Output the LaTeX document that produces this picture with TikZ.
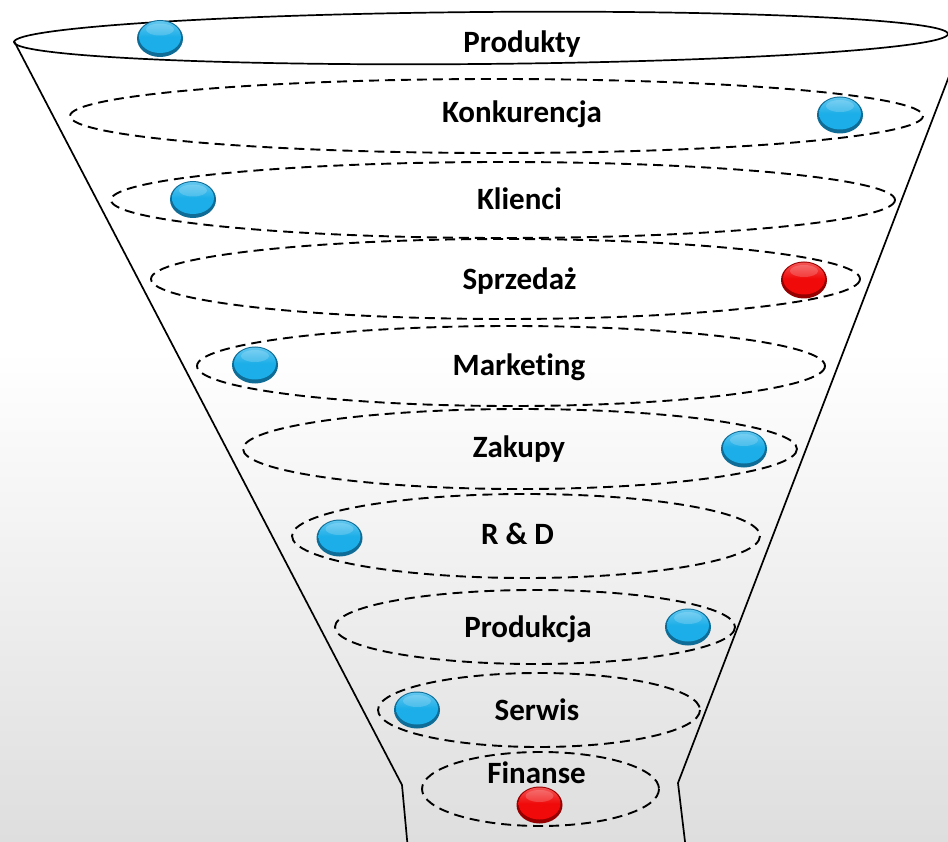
\documentclass[tikz,border=0pt]{standalone}
\usepackage{fontspec}
\setmainfont[Ligatures=NoCommon]{Carlito}
\definecolor{bgbottom}{RGB}{222,222,222}
\definecolor{bluemain}{RGB}{28,174,232}
\definecolor{bluedark}{RGB}{14,108,150}
\definecolor{redmain}{RGB}{240,10,10}
\definecolor{reddark}{RGB}{150,0,0}
\newcommand\funnelball[4]{%
  \fill[#4] (#1,#2) ellipse [x radius=23, y radius=18.5];
  \shade[top color=#3!70!white, bottom color=#3, middle color=#3] (#1,#2-1.5) ellipse [x radius=21, y radius=16];
  \fill[white, opacity=0.18] (#1,#2-9) ellipse [x radius=14, y radius=6];
}
\tikzset{
  rim/.style={line width=1.7pt, black},
  level/.style={line width=1.9pt, black, dash pattern=on 10pt off 6pt},
  lbl/.style={font=\fontsize{31}{36}\selectfont\bfseries, anchor=base, inner sep=0pt}
}
\begin{document}
\begin{tikzpicture}[x=1pt,y=-1pt]
\useasboundingbox (0,0) rectangle (948,842);
\clip (0,0) rectangle (948,842);
\fill[white] (0,0) rectangle (948,352);
\shade[top color=white, bottom color=bgbottom] (0,350) rectangle (948,842);
% funnel
\draw[rim, rotate around={0.5:(481,38)}] (481,38) ellipse [x radius=467, y radius=26];
\coordinate (tl) at (14,41);
\coordinate (kl) at (402,785);
\coordinate (bl) at (408,850);
\coordinate (tr) at (966,32);
\coordinate (kr) at (678,783);
\coordinate (br) at (686,850);
\draw[rim, line join=round] (tl) -- (kl) -- (bl);
\draw[rim, line join=round] (tr) -- (kr) -- (br);
% levels
\draw[level] (496.5,116) ellipse [x radius=426.5, y radius=37];
\draw[level] (503,200) ellipse [x radius=392, y radius=38];
\draw[level] (505.5,279) ellipse [x radius=354.5, y radius=40];
\draw[level] (511,366) ellipse [x radius=314, y radius=40];
\draw[level] (520,449) ellipse [x radius=277, y radius=40];
\draw[level] (526,536) ellipse [x radius=234, y radius=42];
\draw[level] (535,627) ellipse [x radius=200, y radius=37];
\draw[level] (539,710) ellipse [x radius=161, y radius=37];
\draw[level] (540.5,789) ellipse [x radius=118.5, y radius=37];
% balls
\funnelball{160}{38.5}{bluemain}{bluedark}
\funnelball{840}{115}{bluemain}{bluedark}
\funnelball{193}{199.5}{bluemain}{bluedark}
\funnelball{804}{280}{redmain}{reddark}
\funnelball{255}{365}{bluemain}{bluedark}
\funnelball{744}{449}{bluemain}{bluedark}
\funnelball{339.5}{538}{bluemain}{bluedark}
\funnelball{688}{627}{bluemain}{bluedark}
\funnelball{417}{710}{bluemain}{bluedark}
\funnelball{539.5}{805}{redmain}{reddark}
% labels
\node[lbl] (produkty) at (522,53) {Produkty};
\node[lbl] (konkurencja) at (522,123) {Konkurencja};
\node[lbl] (klienci) at (519.5,210) {Klienci};
\node[lbl] (sprzedaz) at (519.5,290) {Sprzedaż};
\node[lbl] (marketing) at (519,375) {Marketing};
\node[lbl] (zakupy) at (519,457) {Zakupy};
\node[lbl] (rd) at (517.5,544) {R \& D};
\node[lbl] (produkcja) at (528,637) {Produkcja};
\node[lbl] (serwis) at (537,720) {Serwis};
\node[lbl] (finanse) at (536.5,783) {Finanse};
\end{tikzpicture}
\end{document}
